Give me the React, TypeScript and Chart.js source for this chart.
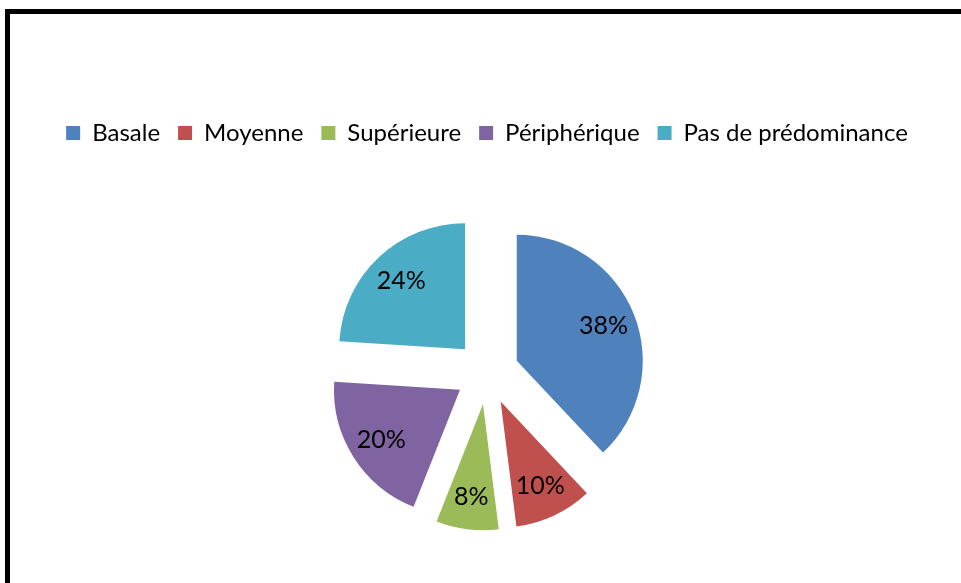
import React, { useEffect, useRef } from 'react';
import { Chart, registerables } from 'chart.js';

Chart.register(...registerables);

const categories = ['Basale', 'Moyenne', 'Supérieure', 'Périphérique', 'Pas de prédominance'];
const percentValues = [38, 10, 8, 20, 24];
const sliceColors = ['#4F81BD', '#C0504D', '#9BBB59', '#8064A2', '#4BACC6'];

const EXPLODE = 32;
const LABEL_DIST = 0.74;
const FONT_FAMILY = 'Lato, "Noto Sans", sans-serif';

const explodePlugin = {
  id: 'explodeSlices',
  beforeDatasetsDraw(chart: any) {
    const { chartArea } = chart;
    const cx = (chartArea.left + chartArea.right) / 2;
    const cy = (chartArea.top + chartArea.bottom) / 2;
    const meta = chart.getDatasetMeta(0);
    meta.data.forEach((arc: any) => {
      const mid = (arc.startAngle + arc.endAngle) / 2;
      arc.x = cx + Math.cos(mid) * EXPLODE;
      arc.y = cy + Math.sin(mid) * EXPLODE;
    });
  },
  afterDatasetsDraw(chart: any) {
    const ctx = chart.ctx;
    const meta = chart.getDatasetMeta(0);
    const data = chart.data.datasets[0].data;
    ctx.save();
    ctx.font = `25px ${FONT_FAMILY}`;
    ctx.fillStyle = '#000000';
    ctx.textAlign = 'center';
    ctx.textBaseline = 'middle';
    meta.data.forEach((arc: any, i: number) => {
      const mid = (arc.startAngle + arc.endAngle) / 2;
      const r = arc.outerRadius * LABEL_DIST;
      const x = arc.x + Math.cos(mid) * r;
      const y = arc.y + Math.sin(mid) * r;
      ctx.fillText(`${data[i]}%`, x, y);
    });
    ctx.restore();
  },
};

export default function App() {
  const canvasRef = useRef<HTMLCanvasElement | null>(null);

  useEffect(() => {
    if (!canvasRef.current) return;
    const chart = new Chart(canvasRef.current, {
      type: 'pie',
      data: {
        labels: categories,
        datasets: [
          {
            data: percentValues,
            backgroundColor: sliceColors,
            borderWidth: 0,
          },
        ],
      },
      options: {
        responsive: false,
        animation: false,
        radius: 126,
        layout: { padding: { top: 103, left: 13, right: 0, bottom: 10 } },
        plugins: {
          legend: {
            display: true,
            position: 'top',
            labels: {
              color: '#000000',
              boxWidth: 14,
              boxHeight: 14,
              padding: 18,
              font: { family: FONT_FAMILY, size: 24 },
            },
          },
          tooltip: { enabled: false },
        },
      } as any,
      plugins: [explodePlugin],
    });
    return () => chart.destroy();
  }, []);

  return (
    <div
      style={{
        position: 'absolute',
        left: 0,
        top: 0,
        width: 961,
        height: 583,
        overflow: 'hidden',
        background: '#ffffff',
      }}
    >
      <canvas ref={canvasRef} width={961} height={600} style={{ display: 'block' }} />
      <div
        style={{
          position: 'absolute',
          left: 5,
          top: 9,
          width: 2000,
          height: 2000,
          border: '5px solid #000000',
          boxSizing: 'border-box',
          pointerEvents: 'none',
        }}
      />
    </div>
  );
}
